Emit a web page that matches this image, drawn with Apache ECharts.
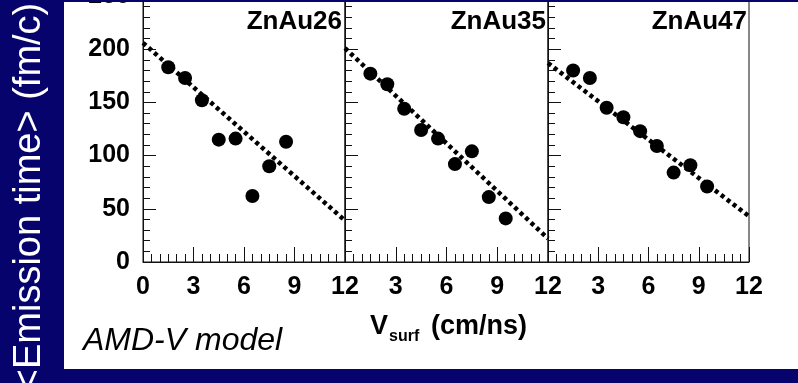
<!DOCTYPE html>
<html><head><meta charset="utf-8">
<script src="https://cdn.jsdelivr.net/npm/echarts@6/dist/echarts.min.js"></script>
<style>html,body{margin:0;padding:0;background:#06046c}#c{width:798px;height:383px}</style>
</head><body><div id="c"></div>
<script>
// ---- data ----
const panelNames = ['ZnAu26', 'ZnAu35', 'ZnAu47'];
const yTicks = [0, 50, 100, 150, 200, 250];
const xTicks = [0, 3, 6, 9, 12];
const vsurf26 = [1.5, 2.5, 3.5, 4.5, 5.5, 6.5, 7.5, 8.5];
const tau26   = [183, 173, 152, 115, 116, 62, 90, 113];
const vsurf35 = [1.5, 2.5, 3.5, 4.5, 5.5, 6.5, 7.5, 8.5, 9.5];
const tau35   = [177, 167, 144, 124, 116, 92, 104, 61, 41];
const vsurf47 = [1.5, 2.5, 3.5, 4.5, 5.5, 6.5, 7.5, 8.5, 9.5];
const tau47   = [180, 173, 145, 136, 123, 109, 84, 91, 71];
const fitV  = [0, 12];
const fit26 = [206, 39];
const fit35 = [201, 22];
const fit47 = [187, 43];
const yTitle = '<Emission time> (fm/c)';
const modelLabel = 'AMD-V model';

// ---- build ----
const NAVY = '#06046c';
const lefts = [143, 345, 548];
const widths = [202, 203, 201];
const pts = [[vsurf26, tau26], [vsurf35, tau35], [vsurf47, tau47]];
const fits = [fit26, fit35, fit47];
const zip = (a, b) => a.map((v, i) => [v, b[i]]);

const grid = [], xAxis = [], yAxis = [], series = [];
for (let i = 0; i < 3; i++) {
  grid.push({left: lefts[i], width: widths[i], top: -4, height: 266, containLabel: false, outerBoundsMode: 'none',
    show: true, borderColor: '#111', borderWidth: 1, backgroundColor: 'transparent'});
  xAxis.push({type: 'value', gridIndex: i, min: xTicks[0], max: xTicks[xTicks.length - 1], interval: 3,
    axisLine: {show: true, onZero: false, lineStyle: {color: '#111', width: 1}},
    axisTick: {show: true, inside: true, length: 15, lineStyle: {color: '#111'}},
    minorTick: {show: true, splitNumber: 6, length: 8, lineStyle: {color: '#111'}},
    splitLine: {show: false},
    axisLabel: {show: true, margin: 13, color: '#000', fontFamily: 'Liberation Sans, Arial, sans-serif',
      fontWeight: 'bold', fontSize: 25,
      formatter: v => (i > 0 && v === 0) ? '' : String(v)}});
  yAxis.push({type: 'value', gridIndex: i, min: yTicks[0], max: yTicks[yTicks.length - 1], interval: 50,
    axisLine: {show: true, onZero: false, lineStyle: {color: '#111', width: 1}},
    axisTick: {show: true, inside: true, length: 13, lineStyle: {color: '#111'}},
    minorTick: {show: true, splitNumber: 5, length: 7, lineStyle: {color: '#111'}},
    splitLine: {show: false},
    axisLabel: {show: i === 0, margin: 13, color: '#000', fontFamily: 'Liberation Sans, Arial, sans-serif',
      fontWeight: 'bold', fontSize: 25}});
  series.push({type: 'line', xAxisIndex: i, yAxisIndex: i, data: zip(fitV, fits[i]),
    symbol: 'none', lineStyle: {color: '#000', width: 4.5, type: [4, 3.5], opacity: 1}, z: 3, silent: true});
  series.push({type: 'scatter', xAxisIndex: i, yAxisIndex: i, data: zip(pts[i][0], pts[i][1]),
    symbol: 'circle', symbolSize: 14, itemStyle: {color: '#000', opacity: 1}, z: 4, silent: true});
}

const font = 'Liberation Sans, Arial, sans-serif';
const rightEdges = [342, 546, 747];
const graphic = [
  {type: 'rect', shape: {x: 64, y: 2, width: 734, height: 367}, style: {fill: '#fff'}, z: -10, silent: true},
  {type: 'rect', shape: {x: 0, y: 0, width: 798, height: 2}, style: {fill: NAVY}, z: 100, silent: true},
  {type: 'text', x: 30, y: 197, rotation: Math.PI / 2, z: 100,
    style: {text: yTitle, fill: '#fff', font: '38px ' + font, align: 'center', verticalAlign: 'middle'}},
  {type: 'text', x: 83, y: 341, z: 100,
    style: {text: modelLabel, fill: '#000', font: 'italic 32px ' + font, align: 'left', verticalAlign: 'middle'}},
  {type: 'text', x: 370, y: 327, z: 100,
    style: {text: 'V', fill: '#000', font: 'bold 27px ' + font, align: 'left', verticalAlign: 'middle'}},
  {type: 'text', x: 389, y: 337, z: 100,
    style: {text: 'surf', fill: '#000', font: 'bold 16px ' + font, align: 'left', verticalAlign: 'middle'}},
  {type: 'text', x: 431, y: 327, z: 100,
    style: {text: '(cm/ns)', fill: '#000', font: 'bold 27px ' + font, align: 'left', verticalAlign: 'middle'}}
];
panelNames.forEach((n, i) => graphic.push({type: 'text', x: rightEdges[i], y: 22, z: 100,
  style: {text: n, fill: '#000', font: 'bold 26px ' + font, align: 'right', verticalAlign: 'middle'}}));

const chart = echarts.init(document.getElementById('c'), null, {renderer: 'canvas'});
chart.setOption({backgroundColor: NAVY, animation: false, grid, xAxis, yAxis, series, graphic});
</script></body></html>
